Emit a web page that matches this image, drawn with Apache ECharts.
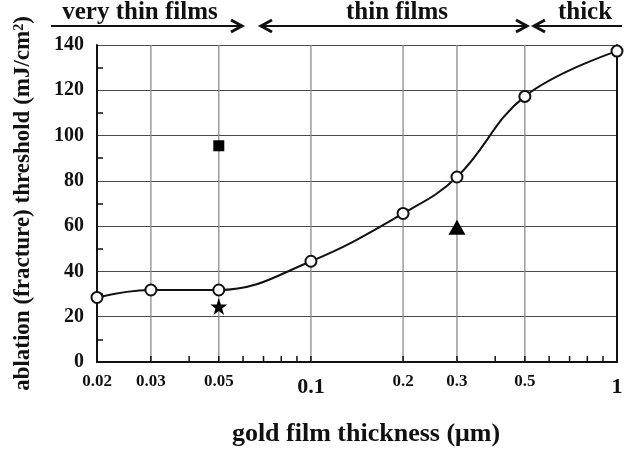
<!DOCTYPE html>
<html>
<head>
<meta charset="utf-8">
<script src="https://cdn.jsdelivr.net/npm/echarts@6/dist/echarts.min.js"></script>
<style>
  html, body { margin: 0; padding: 0; background: #fff; }
  #chart { width: 637px; height: 452px; }
</style>
</head>
<body>
<div id="chart"></div>
<script>
// Gold film thickness (µm) and measured ablation (fracture) threshold (mJ/cm²)
const thickness = [0.02, 0.03, 0.05, 0.1, 0.2, 0.3, 0.5, 1];
const threshold = [28.5, 31.8, 31.8, 44.5, 65.6, 81.7, 117.3, 137.3];

// Individual reference measurements
const squarePoint = [0.05, 95.5];
const starPoint = [0.05, 24.5];
const trianglePoint = [0.3, 59.5];

// Axis ticks
const xGridValues = [0.03, 0.05, 0.1, 0.2, 0.3, 0.5];
const xMinorValues = [0.04, 0.06, 0.07, 0.08, 0.09, 0.4, 0.6, 0.7, 0.8, 0.9];
const xTickLabels = ['0.02', '0.03', '0.05', '0.1', '0.2', '0.3', '0.5', '1'];
const yMin = 0, yMax = 140, yStep = 20;

// Regime annotations above the plot
const regimeLabels = ['very thin films', 'thin films', 'thick'];

const SERIF = '"Liberation Serif", "Times New Roman", serif';
const INK = '#111';

const chart = echarts.init(document.getElementById('chart'), null, { renderer: 'canvas' });

const isDecade = v => Math.abs(Math.log10(v) - Math.round(Math.log10(v))) < 1e-9;

function chevron(x, y, dir) {
  // open arrow head, dir = 1 points right, -1 points left
  return {
    type: 'polyline',
    shape: { points: [[x - dir * 11, y - 6], [x, y], [x - dir * 11, y + 6]] },
    style: { stroke: INK, lineWidth: 3, fill: null },
    silent: true
  };
}

function regimeText(text, cx) {
  return { type: 'text', x: cx, y: 13, style: { text: text, font: 'bold 25px ' + SERIF, fill: INK, align: 'center', verticalAlign: 'middle' } };
}

const arrowY = 26;
const graphics = [
  regimeText(regimeLabels[0], 140),
  regimeText(regimeLabels[1], 397),
  regimeText(regimeLabels[2], 585),
  { type: 'line', shape: { x1: 51, y1: arrowY, x2: 241, y2: arrowY }, style: { stroke: INK, lineWidth: 2 } },
  chevron(242, arrowY, 1),
  { type: 'line', shape: { x1: 262, y1: arrowY, x2: 526, y2: arrowY }, style: { stroke: INK, lineWidth: 2 } },
  chevron(261, arrowY, -1),
  chevron(527, arrowY, 1),
  { type: 'line', shape: { x1: 535, y1: arrowY, x2: 622, y2: arrowY }, style: { stroke: INK, lineWidth: 2 } },
  chevron(534, arrowY, -1)
];

const option = {
  backgroundColor: '#fff',
  animation: false,
  grid: { left: 97, right: 20, top: 45, bottom: 85, containLabel: false },
  xAxis: {
    type: 'log',
    logBase: 10,
    min: 0.02,
    max: 1,
    name: 'gold film thickness (\u03bcm)',
    nameLocation: 'middle',
    nameGap: 59,
    nameTextStyle: { fontFamily: SERIF, fontWeight: 'bold', fontSize: 26, color: INK, padding: [0, 0, 0, 18] },
    axisLine: { show: true, onZero: false, lineStyle: { color: INK, width: 2 } },
    axisTick: { show: false },
    axisLabel: { show: false },
    splitLine: { show: false }
  },
  yAxis: [
    {
      type: 'value',
      min: yMin,
      max: yMax,
      interval: yStep,
      name: 'ablation (fracture) threshold (mJ/cm{sup|2})',
      nameLocation: 'middle',
      nameGap: 62,
      nameTextStyle: {
        fontFamily: SERIF, fontWeight: 'bold', fontSize: 23, color: INK,
        rich: { sup: { fontFamily: SERIF, fontWeight: 'bold', fontSize: 14, color: INK, verticalAlign: 'top', lineHeight: 22 } }
      },
      axisLine: { show: true, lineStyle: { color: INK, width: 2 } },
      axisTick: { show: false, inside: true },
      minorTick: { show: true, splitNumber: 2, length: 6, lineStyle: { color: INK, width: 1.5 } },
      axisLabel: { fontFamily: SERIF, fontWeight: 'bold', fontSize: 20, color: INK, margin: 13 },
      splitLine: { show: true, lineStyle: { color: '#4a4a4a', width: 1.2 } }
    },
    {
      type: 'value',
      min: yMin,
      max: yMax,
      position: 'right',
      axisLine: { show: true, lineStyle: { color: INK, width: 2 } },
      axisTick: { show: false },
      axisLabel: { show: false },
      splitLine: { show: false }
    }
  ],
  graphic: graphics,
  series: [
    {
      // vertical grid lines at selected thickness values
      type: 'custom',
      silent: true,
      z: 1,
      data: xGridValues.map(v => [v, yMin]),
      renderItem: (params, api) => {
        const v = api.value(0);
        const p0 = api.coord([v, yMin]);
        const p1 = api.coord([v, yMax]);
        return {
          type: 'line',
          shape: { x1: p0[0], y1: p0[1], x2: p1[0], y2: p1[1] },
          style: { stroke: '#8c8c8c', lineWidth: 1.3 }
        };
      }
    },
    {
      // minor ticks on the thickness axis
      type: 'custom',
      silent: true,
      z: 2,
      data: xMinorValues.concat(xGridValues).map(v => [v, yMin]),
      renderItem: (params, api) => {
        const p = api.coord([api.value(0), yMin]);
        return {
          type: 'line',
          shape: { x1: p[0], y1: p[1], x2: p[0], y2: p[1] - 6 },
          style: { stroke: INK, lineWidth: 1.5 }
        };
      }
    },
    {
      // thickness tick labels
      type: 'custom',
      silent: true,
      z: 2,
      data: xTickLabels.map(t => [Number(t), yMin]),
      renderItem: (params, api) => {
        const v = api.value(0);
        const p = api.coord([v, yMin]);
        const big = isDecade(v);
        return {
          type: 'text',
          x: p[0],
          y: p[1] + (big ? 25 : 20),
          style: {
            text: xTickLabels[params.dataIndex],
            font: 'bold ' + (big ? 22 : 17) + 'px ' + SERIF,
            fill: INK,
            align: 'center',
            verticalAlign: 'middle'
          }
        };
      }
    },
    {
      type: 'line',
      data: thickness.map((x, i) => [x, threshold[i]]),
      smooth: 0.4,
      clip: false,
      z: 3,
      symbol: 'emptyCircle',
      symbolSize: 11,
      lineStyle: { color: INK, width: 2 },
      itemStyle: { color: INK, borderWidth: 1.3 }
    },
    {
      type: 'scatter',
      data: [squarePoint],
      symbol: 'rect',
      symbolSize: 11,
      z: 4,
      itemStyle: { color: '#000', opacity: 1 }
    },
    {
      type: 'scatter',
      data: [starPoint],
      symbol: 'path://M50,0 L61.8,35.1 L97.6,34.5 L68.8,56 L79.4,90.5 L50,69.5 L20.6,90.5 L31.2,56 L2.4,34.5 L38.2,35.1 Z',
      symbolSize: 17,
      z: 4,
      itemStyle: { color: '#000', opacity: 1 }
    },
    {
      type: 'scatter',
      data: [trianglePoint],
      symbol: 'triangle',
      symbolSize: [17, 15],
      z: 4,
      itemStyle: { color: '#000', opacity: 1 }
    }
  ]
};

chart.setOption(option);
</script>
</body>
</html>
